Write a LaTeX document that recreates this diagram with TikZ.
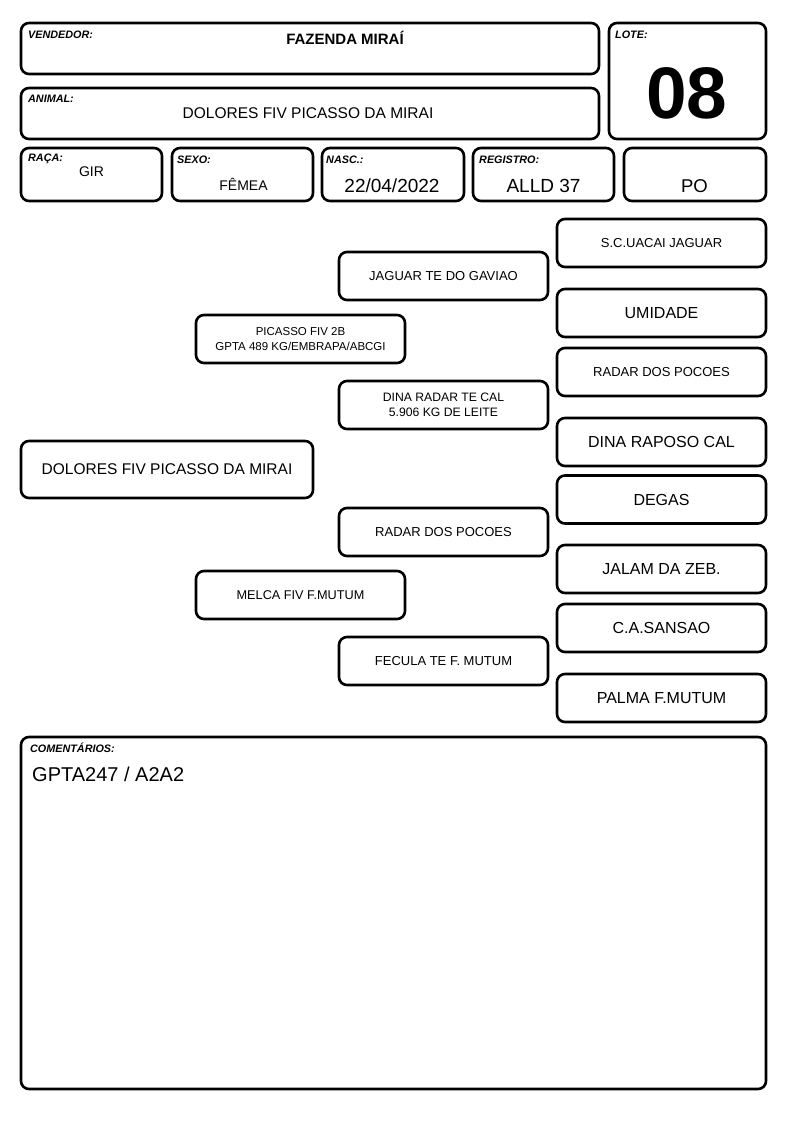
\documentclass[tikz,border=0pt]{standalone}
\usepackage{fontspec}
\setmainfont{Liberation Sans}
\begin{document}
\begin{tikzpicture}[x=1pt,y=-1pt,
  box/.style={draw=black, line width=2.6pt, rounded corners=8pt, fill=white, inner sep=0pt, align=center},
  ped/.style={box, minimum width=209pt, minimum height=48pt},
  lbl/.style={anchor=west, inner sep=0pt, font=\fontsize{10.8}{13}\selectfont\bfseries\itshape},
  val/.style={inner sep=0pt},
  big/.style={font=\fontsize{16}{19}\selectfont},
  mid/.style={font=\fontsize{13}{15}\selectfont},
  sml/.style={font=\fontsize{12}{15}\selectfont}
]
\useasboundingbox[fill=white] (0,0) rectangle (794,1123);

% header boxes
\node[box, minimum width=578pt, minimum height=51pt] (vend) at (310,48.5) {};
\node[box, minimum width=157pt, minimum height=116pt] (lote) at (687.5,81) {};
\node[box, minimum width=578pt, minimum height=51pt] (animal) at (310,113.5) {};
\node[box, minimum width=141pt, minimum height=53pt] (raca) at (91.5,174.5) {};
\node[box, minimum width=141pt, minimum height=53pt] (sexo) at (242.5,174.5) {};
\node[box, minimum width=142pt, minimum height=53pt] (nasc) at (393,174.5) {};
\node[box, minimum width=141pt, minimum height=53pt] (reg) at (543.5,174.5) {};
\node[box, minimum width=142pt, minimum height=53pt] (po) at (695,174.5) {};

\node[lbl] (lvend) at (28,35) {VENDEDOR:};
\node[val, font=\fontsize{15}{18}\selectfont\bfseries] (tvend) at (345,38) {FAZENDA MIRAÍ};
\node[lbl] (llote) at (615,35) {LOTE:};
\node[val, font=\fontsize{73}{80}\selectfont\bfseries] (tlote) at (687,93) {08};
\node[lbl] (lanimal) at (28,99) {ANIMAL:};
\node[val, font=\fontsize{15.5}{18}\selectfont] (tanimal) at (308,113) {DOLORES FIV PICASSO DA MIRAI};
\node[lbl] (lraca) at (28,159) {RAÇA:};
\node[val, font=\fontsize{14}{17}\selectfont] (traca) at (91.5,172) {GIR};
\node[lbl] (lsexo) at (177,160) {SEXO:};
\node[val, font=\fontsize{14}{17}\selectfont] (tsexo) at (243.5,184) {FÊMEA};
\node[lbl] (lnasc) at (326,160) {NASC.:};
\node[val, font=\fontsize{19}{22}\selectfont] (tnasc) at (392,186) {22/04/2022};
\node[lbl] (lreg) at (479,160) {REGISTRO:};
\node[val, font=\fontsize{19}{22}\selectfont] (treg) at (543.5,186) {ALLD 37};
\node[val, font=\fontsize{18.5}{22}\selectfont] (tpo) at (694.5,186) {PO};

% pedigree: great-grandparents
\node[ped, mid] (g1) at (661.5,243) {S.C.UACAI JAGUAR};
\node[ped, big] (g2) at (661.5,313) {UMIDADE};
\node[ped, mid] (g3) at (661.5,372) {RADAR DOS POCOES};
\node[ped, big] (g4) at (661.5,442) {DINA RAPOSO CAL};
\node[ped, big] (g5) at (661.5,499.5) {DEGAS};
\node[ped, big] (g6) at (661.5,569) {JALAM DA ZEB.};
\node[ped, big] (g7) at (661.5,628) {C.A.SANSAO};
\node[ped, big] (g8) at (661.5,698) {PALMA F.MUTUM};

% grandparents
\node[ped, mid] (p1) at (443.5,276) {JAGUAR TE DO GAVIAO};
\node[ped, font=\fontsize{12.2}{15}\selectfont] (p2) at (443.5,405) {DINA RADAR TE CAL\\5.906 KG DE LEITE};
\node[ped, mid] (p3) at (443.5,532) {RADAR DOS POCOES};
\node[ped, mid] (p4) at (443.5,661) {FECULA TE F. MUTUM};

% parents
\node[ped, font=\fontsize{11.5}{15}\selectfont] (sire) at (300.5,339) {PICASSO FIV 2B\\GPTA 489 KG/EMBRAPA/ABCGI};
\node[ped, font=\fontsize{12.7}{15}\selectfont] (dam) at (300.5,595) {MELCA FIV F.MUTUM};

% animal
\node[box, minimum width=292pt, minimum height=57pt, font=\fontsize{15.5}{18}\selectfont] (self) at (167,469.5) {DOLORES FIV PICASSO DA MIRAI};

% comments
\node[box, minimum width=745pt, minimum height=352pt] (coment) at (393.5,913) {};
\node[lbl] (lcoment) at (30,748) {COMENTÁRIOS:};
\node[val, anchor=west, font=\fontsize{20}{24}\selectfont] (tcoment) at (32,774) {GPTA247 / A2A2};
\end{tikzpicture}
\end{document}
